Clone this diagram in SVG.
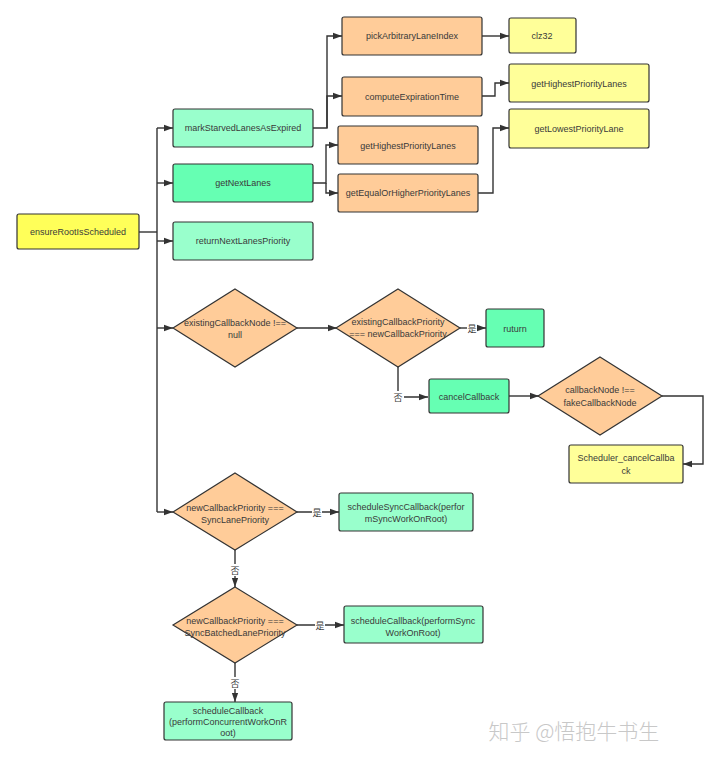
<svg xmlns="http://www.w3.org/2000/svg" width="720" height="757" viewBox="0 0 720 757">
<style>
text{font-family:"Liberation Sans","Noto Sans CJK SC",Arial,sans-serif;font-size:9px;fill:#3a3a3a;text-anchor:middle;dominant-baseline:central}
.b{stroke:#333;stroke-width:1.2}
.y1{fill:#FFFF59}.y2{fill:#FFFF99}.g1{fill:#99FFCC}.g2{fill:#66FFB3}.o{fill:#FFCC99}
.c{fill:none;stroke:#333;stroke-width:1.4}
.lbl{font-family:"Noto Sans CJK SC",sans-serif;font-size:9px}
</style>
<defs>
<marker id="a" viewBox="0 0 10 10" refX="10" refY="5" markerWidth="9" markerHeight="9" markerUnits="userSpaceOnUse" orient="auto"><path d="M0,1.5 L10,5 L0,8.5 Z" fill="#333"/></marker>
</defs>
<rect width="720" height="757" fill="#fff"/>
<g id="connectors">
<path class="c" d="M139,232 H157"/>
<path class="c" d="M157,128 V512"/>
<path class="c" d="M157,128 H173" marker-end="url(#a)"/>
<path class="c" d="M157,183 H173" marker-end="url(#a)"/>
<path class="c" d="M157,241 H173" marker-end="url(#a)"/>
<path class="c" d="M157,328 H173" marker-end="url(#a)"/>
<path class="c" d="M157,512 H173" marker-end="url(#a)"/>
<path class="c" d="M313,128 H327 V36 H342" marker-end="url(#a)"/>
<path class="c" d="M327,128 V96 H342" marker-end="url(#a)"/>
<path class="c" d="M313,183 H326 V145 H338" marker-end="url(#a)"/>
<path class="c" d="M326,183 V193 H338" marker-end="url(#a)"/>
<path class="c" d="M482,36 H509" marker-end="url(#a)"/>
<path class="c" d="M482,96 H495 V83 H509" marker-end="url(#a)"/>
<path class="c" d="M478,193 H493 V128 H509" marker-end="url(#a)"/>
<path class="c" d="M297,328 H337" marker-end="url(#a)"/>
<path class="c" d="M460,328 H486" marker-end="url(#a)"/>
<path class="c" d="M398,367 V397 H428" marker-end="url(#a)"/>
<path class="c" d="M509,396 H539" marker-end="url(#a)"/>
<path class="c" d="M662,396 H703 V464 H683" marker-end="url(#a)"/>
<path class="c" d="M297,512 H339" marker-end="url(#a)"/>
<path class="c" d="M235,550 V587" marker-end="url(#a)"/>
<path class="c" d="M297,625 H344" marker-end="url(#a)"/>
<path class="c" d="M235,663 V702" marker-end="url(#a)"/>
<rect x="467" y="322" width="10" height="12" fill="#fff"/>
<text class="lbl" x="472" y="328">是</text>
<rect x="392" y="391" width="12" height="12" fill="#fff"/>
<text class="lbl" x="398" y="397">否</text>
<rect x="312" y="506" width="10" height="12" fill="#fff"/>
<text class="lbl" x="317" y="512">是</text>
<rect x="229" y="564" width="12" height="12" fill="#fff"/>
<text class="lbl" x="235" y="570">否</text>
<rect x="315" y="619" width="10" height="12" fill="#fff"/>
<text class="lbl" x="320" y="625">是</text>
<rect x="229" y="677" width="12" height="12" fill="#fff"/>
<text class="lbl" x="235" y="683">否</text>
</g>
<g id="ensureRootIsScheduled"><rect class="b y1" x="17" y="214" width="122" height="35" rx="2"/><text x="78" y="232">ensureRootIsScheduled</text></g>
<g id="markStarvedLanesAsExpired"><rect class="b g1" x="173" y="109" width="140" height="38" rx="2"/><text x="243" y="128">markStarvedLanesAsExpired</text></g>
<g id="getNextLanes"><rect class="b g2" x="173" y="164" width="140" height="38" rx="2"/><text x="243" y="183">getNextLanes</text></g>
<g id="returnNextLanesPriority"><rect class="b g1" x="173" y="222" width="140" height="38" rx="2"/><text x="243" y="241">returnNextLanesPriority</text></g>
<g id="pickArbitraryLaneIndex"><rect class="b o" x="342" y="17" width="140" height="38" rx="2"/><text x="412" y="36">pickArbitraryLaneIndex</text></g>
<g id="computeExpirationTime"><rect class="b o" x="342" y="77" width="140" height="39" rx="2"/><text x="412" y="97">computeExpirationTime</text></g>
<g id="getHighestPriorityLanes1"><rect class="b o" x="338" y="126" width="140" height="38" rx="2"/><text x="408" y="146">getHighestPriorityLanes</text></g>
<g id="getEqualOrHigherPriorityLanes"><rect class="b o" x="338" y="174" width="140" height="38" rx="2"/><text x="408" y="193">getEqualOrHigherPriorityLanes</text></g>
<g id="clz32"><rect class="b y2" x="509" y="18" width="67" height="35" rx="2"/><text x="542" y="36">clz32</text></g>
<g id="getHighestPriorityLanes2"><rect class="b y2" x="509" y="64" width="140" height="38" rx="2"/><text x="579" y="84">getHighestPriorityLanes</text></g>
<g id="getLowestPriorityLane"><rect class="b y2" x="509" y="109" width="140" height="39" rx="2"/><text x="579" y="129">getLowestPriorityLane</text></g>
<g id="existingCallbackNode"><path class="b o" d="M235,289 L297,328 L235,367 L173,328 Z"/><text x="235" y="323">existingCallbackNode !==</text><text x="235" y="335">null</text></g>
<g id="existingCallbackPriority"><path class="b o" d="M398,289 L460,328 L398,367 L336,328 Z"/><text x="398" y="322">existingCallbackPriority</text><text x="398" y="334">=== newCallbackPriority</text></g>
<g id="ruturn"><rect class="b g2" x="486" y="309" width="58" height="38" rx="2"/><text x="515" y="329">ruturn</text></g>
<g id="cancelCallback"><rect class="b g2" x="429" y="379" width="80" height="34" rx="2"/><text x="469" y="397">cancelCallback</text></g>
<g id="callbackNodeCheck"><path class="b o" d="M600,357 L662,396 L600,435 L538,396 Z"/><text x="600" y="390">callbackNode !==</text><text x="600" y="403">fakeCallbackNode</text></g>
<g id="Scheduler_cancelCallback"><rect class="b y2" x="569" y="445" width="114" height="38" rx="2"/><text x="626" y="458">Scheduler_cancelCallba</text><text x="626" y="471">ck</text></g>
<g id="syncLanePriority"><path class="b o" d="M235,473 L297,512 L235,550 L173,512 Z"/><text x="235" y="508">newCallbackPriority ===</text><text x="235" y="520">SyncLanePriority</text></g>
<g id="scheduleSyncCallback"><rect class="b g1" x="339" y="493" width="134" height="38" rx="2"/><text x="406" y="507">scheduleSyncCallback(perfor</text><text x="406" y="519">mSyncWorkOnRoot)</text></g>
<g id="syncBatchedLanePriority"><path class="b o" d="M235,587 L297,625 L235,663 L173,625 Z"/><text x="235" y="621">newCallbackPriority ===</text><text x="235" y="633">SyncBatchedLanePriority</text></g>
<g id="scheduleCallbackSync"><rect class="b g1" x="344" y="606" width="139" height="37" rx="2"/><text x="413" y="621">scheduleCallback(performSync</text><text x="413" y="633">WorkOnRoot)</text></g>
<g id="scheduleCallbackConcurrent"><rect class="b g1" x="164" y="702" width="128" height="38" rx="2"/><text x="228" y="711">scheduleCallback</text><text x="228" y="722">(performConcurrentWorkOnR</text><text x="228" y="733">oot)</text></g>
<text x="574" y="730" style="font-family:'Noto Sans CJK SC',sans-serif;font-size:21px;font-weight:300;fill:#c8c8c8">知乎 @悟抱牛书生</text>
</svg>
